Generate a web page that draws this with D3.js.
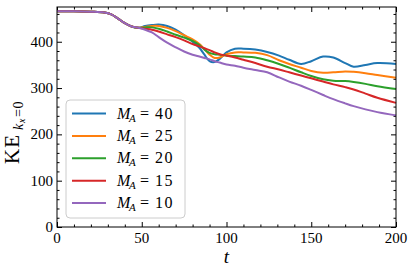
<!DOCTYPE html>
<meta charset="utf-8">
<script src="https://d3js.org/d3.v7.min.js"></script>
<style>
body { margin: 0; background: #fff; }
text { font-family: "Liberation Serif", "DejaVu Serif", serif; fill: #000; }
.tick line { stroke: #000; }
</style>
<body>
<div id="chart"></div>
</body>
<script>

// time grid shared by every run
const tGrid = [0, 10, 20, 28, 32, 36, 40, 44, 48, 52, 56, 60, 65, 70, 75, 80, 84, 87, 90, 93,
	96, 100, 105, 110, 117, 124, 131, 137, 144, 150, 157, 163, 170, 175, 182, 189, 200];

// all runs start on the same curve up to t=48
const common = [466, 466, 465, 463, 459, 450, 440, 433, 430];

const ke40 = common.concat([434, 436, 437, 434, 426, 414, 400, 387, 372, 358, 356,
	363, 377, 385, 385, 383, 378, 370, 361, 352, 358, 368, 366, 354, 346, 350, 354, 352]);
const ke25 = common.concat([432, 434, 434, 430, 423, 414, 405, 395, 384, 372, 365,
	366, 373, 377, 377, 376, 371, 360, 352, 344, 337, 333, 334, 336, 335, 332, 328, 322]);
const ke20 = common.concat([431, 431, 428, 422, 415, 409, 402, 393, 383, 376, 373,
	372, 370, 369, 368, 366, 360, 352, 344, 334, 326, 319, 316, 315, 313, 309, 304, 298]);
const ke15 = common.concat([428, 426, 422, 416, 410, 403, 395, 390, 386, 382, 377,
	373, 370, 366, 361, 354, 346, 340, 334, 327, 321, 314, 308, 302, 297, 288, 279, 268]);
const ke10 = common.concat([426, 420, 410, 398, 388, 379, 372, 368, 365, 362, 358,
	355, 351, 348, 344, 339, 334, 323, 314, 305, 296, 285, 276, 267, 261, 254, 248, 241]);

const machNumbers = ["40", "25", "20", "15", "10"];
const seriesValues = [ke40, ke25, ke20, ke15, ke10];
const colors = ["#1f77b4", "#ff7f0e", "#2ca02c", "#d62728", "#9467bd"];

const xTicks = [0, 50, 100, 150, 200];
const yTicks = [0, 100, 200, 300, 400];

const W = 415, H = 274;
const margin = {top: 7, right: 19, bottom: 47, left: 57};
const width = W - margin.left - margin.right,
	height = H - margin.top - margin.bottom;

const svg = d3.select("#chart").append("svg")
	.attr("width", W)
	.attr("height", H);

const g = svg.append("g")
	.attr("transform", `translate(${margin.left},${margin.top})`);

const x = d3.scaleLinear().domain([0, 200]).range([0, width]);
const y = d3.scaleLinear().domain([0, 475]).range([height, 0]);

// minor ticks first, then major ticks (ticks point inwards, on all four sides)
function minor(axis, scale, vals) {
	return axis(scale).tickValues(vals).tickSize(2.5).tickFormat("");
}
const xMinor = d3.range(0, 201, 10).filter(v => v % 50 != 0);
const yMinor = d3.range(0, 476, 20).filter(v => v % 100 != 0);

g.append("g").attr("transform", `translate(0,${height})`)
	.call(minor(d3.axisTop, x, xMinor));
g.append("g").call(minor(d3.axisBottom, x, xMinor));
g.append("g").call(minor(d3.axisRight, y, yMinor));
g.append("g").attr("transform", `translate(${width},0)`)
	.call(minor(d3.axisLeft, y, yMinor));

g.append("g").attr("transform", `translate(0,${height})`)
	.call(d3.axisTop(x).tickValues(xTicks).tickSize(5).tickFormat(""));
g.append("g").call(d3.axisBottom(x).tickValues(xTicks).tickSize(5).tickFormat(""));
g.append("g").call(d3.axisRight(y).tickValues(yTicks).tickSize(5).tickFormat(""));
g.append("g").attr("transform", `translate(${width},0)`)
	.call(d3.axisLeft(y).tickValues(yTicks).tickSize(5).tickFormat(""));
g.selectAll(".domain").remove();

// tick labels
g.append("g").selectAll("text")
	.data(xTicks).enter().append("text")
	.attr("x", d => x(d))
	.attr("y", height + 16)
	.attr("text-anchor", "middle")
	.style("font-size", "15px")
	.text(d => d);

g.append("g").selectAll("text")
	.data(yTicks).enter().append("text")
	.attr("x", -4)
	.attr("y", d => y(d) + 5)
	.attr("text-anchor", "end")
	.style("font-size", "15px")
	.text(d => d);

// lines
const line = d3.line()
	.x((d, i) => x(tGrid[i]))
	.y(d => y(d))
	.curve(d3.curveCatmullRom);

g.append("g").selectAll("path")
	.data(seriesValues).enter().append("path")
	.attr("d", d => line(d))
	.style("fill", "none")
	.style("stroke", (d, i) => colors[i])
	.style("stroke-width", 2);

// frame
g.append("rect")
	.attr("width", width)
	.attr("height", height)
	.style("fill", "none")
	.style("stroke", "#000")
	.style("stroke-width", 1);

// legend
const leg = g.append("g").attr("transform", "translate(9,93)");
leg.append("rect")
	.attr("width", 119)
	.attr("height", 118)
	.attr("rx", 4)
	.style("fill", "#fff")
	.style("fill-opacity", 0.8)
	.style("stroke", "#cccccc")
	.style("stroke-width", 1);

const row = leg.selectAll(".row")
	.data(machNumbers).enter().append("g")
	.attr("transform", (d, i) => `translate(0,${13.5 + i * 22.4})`);
row.append("line")
	.attr("x1", 6).attr("x2", 40)
	.style("stroke", (d, i) => colors[i])
	.style("stroke-width", 2);
row.append("text")
	.attr("x", 51).attr("y", 5)
	.style("font-size", "16px").style("font-style", "italic")
	.text("M");
row.append("text")
	.attr("x", 63).attr("y", 8)
	.style("font-size", "11px").style("font-style", "italic")
	.text("A");
row.append("text")
	.attr("x", 74).attr("y", 5)
	.style("font-size", "16px")
	.text("=");
row.append("text")
	.attr("x", 89).attr("y", 5)
	.style("font-size", "16px")
	.style("letter-spacing", "1.5px")
	.text(d => d);

// axis titles
g.append("text")
	.attr("x", width / 2)
	.attr("y", height + 36)
	.attr("text-anchor", "middle")
	.style("font-size", "19px")
	.style("font-style", "italic")
	.text("t");

const yl = svg.append("g")
	.attr("transform", "rotate(-90)");
yl.append("text")
	.attr("x", -164).attr("y", 19)
	.style("font-size", "21px")
	.style("letter-spacing", "1px")
	.text("KE");
yl.append("text")
	.attr("x", -130).attr("y", 23)
	.style("font-size", "14px").style("font-style", "italic")
	.text("k");
yl.append("text")
	.attr("x", -123).attr("y", 25)
	.style("font-size", "10px").style("font-style", "italic")
	.text("x");
yl.append("text")
	.attr("x", -117).attr("y", 23)
	.style("font-size", "14px")
	.style("letter-spacing", "0.5px")
	.text("=0");

</script>
